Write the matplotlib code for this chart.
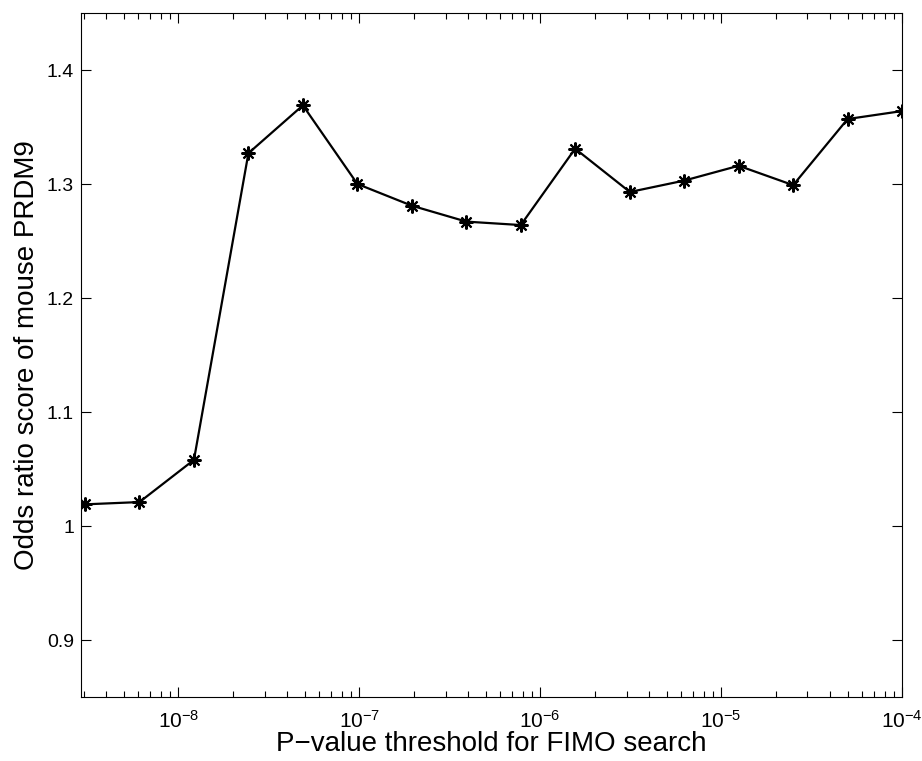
import matplotlib
matplotlib.use("Agg")
import matplotlib.pyplot as plt
from matplotlib.ticker import FuncFormatter

plt.rcParams['font.family'] = ['Liberation Sans', 'DejaVu Sans']

# p-value thresholds (halving from 1e-4) and odds ratio scores
pvals = [3.05e-9, 6.1e-9, 1.22e-8, 2.44e-8, 4.88e-8, 9.77e-8, 1.95e-7, 3.91e-7,
         7.81e-7, 1.56e-6, 3.13e-6, 6.25e-6, 1.25e-5, 2.5e-5, 5e-5, 1e-4]
odds = [1.019, 1.021, 1.058, 1.327, 1.369, 1.300, 1.281, 1.267,
        1.264, 1.331, 1.293, 1.303, 1.316, 1.299, 1.357, 1.364]
yticks = [0.9, 1.0, 1.1, 1.2, 1.3, 1.4]

fig = plt.figure(figsize=(9.22, 7.61), dpi=100)
ax = fig.add_axes([0.0879, 0.0841, 0.8905, 0.8988])

ax.plot(pvals, odds, color='black', lw=1.6, marker=(8, 2, 0), ms=10, mew=1.5)
ax.set_xscale('log')
ax.set_xlim(2.9e-9, 1e-4)
ax.set_ylim(0.85, 1.45)
ax.set_yticks(yticks)
ax.yaxis.set_major_formatter(FuncFormatter(lambda v, p: f"{v:g}"))

ax.tick_params(which='both', direction='in', top=True, right=True, labelsize=14)
ax.tick_params(which='major', length=7, width=0.8)
ax.tick_params(which='minor', length=4, width=0.8)
ax.tick_params(axis='x', pad=9, labelsize=15)
ax.tick_params(axis='y', pad=5)
for s in ax.spines.values():
    s.set_linewidth(0.8)

ax.set_xlabel('P\u2212value threshold for FIMO search', fontsize=20, labelpad=0)
ax.set_ylabel('Odds ratio score of mouse PRDM9', fontsize=20, labelpad=5)

fig.savefig('out.png', dpi=100)
